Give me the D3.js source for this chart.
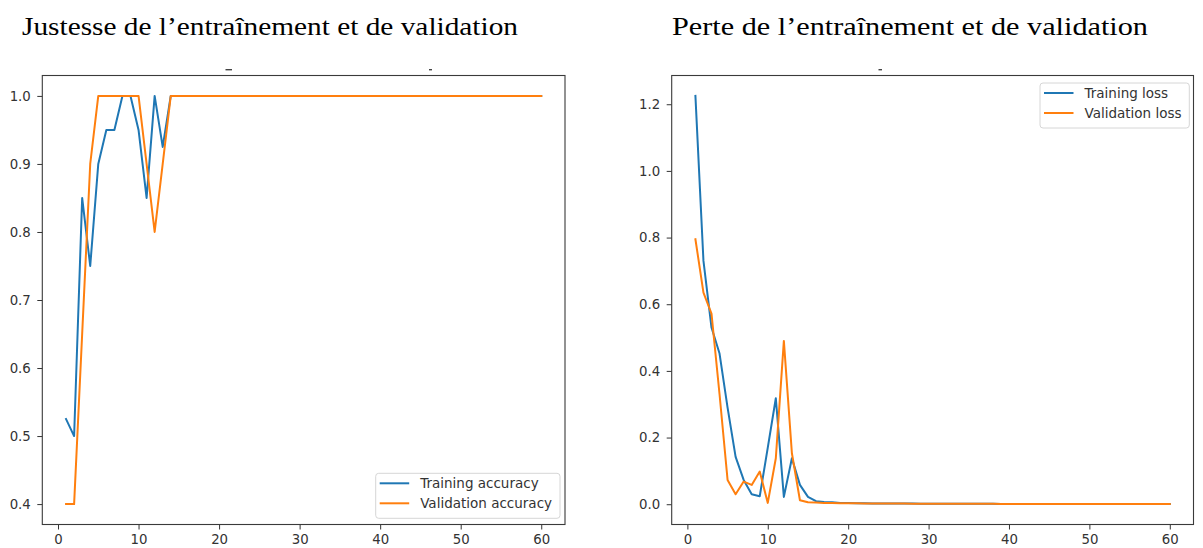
<!DOCTYPE html>
<html>
<head>
<meta charset="utf-8">
<script src="https://cdn.jsdelivr.net/npm/d3@7"></script>
<style>
  html, body { margin: 0; padding: 0; background: #fff; }
  svg { display: block; }
</style>
</head>
<body>
<svg id="chart" width="1203" height="548"></svg>
<script>
// Epochs 1..60
const epochs = d3.range(1, 61);

// Accuracy per epoch
const trainAccuracy = [
  0.525, 0.5, 0.85, 0.75, 0.9, 0.95, 0.95, 1.0, 1.0, 0.95,
  0.85, 1.0, 0.925, 1.0, 1.0, 1.0, 1.0, 1.0, 1.0, 1.0,
  1.0, 1.0, 1.0, 1.0, 1.0, 1.0, 1.0, 1.0, 1.0, 1.0,
  1.0, 1.0, 1.0, 1.0, 1.0, 1.0, 1.0, 1.0, 1.0, 1.0,
  1.0, 1.0, 1.0, 1.0, 1.0, 1.0, 1.0, 1.0, 1.0, 1.0,
  1.0, 1.0, 1.0, 1.0, 1.0, 1.0, 1.0, 1.0, 1.0, 1.0
];
const valAccuracy = [
  0.4, 0.4, 0.65, 0.9, 1.0, 1.0, 1.0, 1.0, 1.0, 1.0,
  0.9, 0.8, 0.9, 1.0, 1.0, 1.0, 1.0, 1.0, 1.0, 1.0,
  1.0, 1.0, 1.0, 1.0, 1.0, 1.0, 1.0, 1.0, 1.0, 1.0,
  1.0, 1.0, 1.0, 1.0, 1.0, 1.0, 1.0, 1.0, 1.0, 1.0,
  1.0, 1.0, 1.0, 1.0, 1.0, 1.0, 1.0, 1.0, 1.0, 1.0,
  1.0, 1.0, 1.0, 1.0, 1.0, 1.0, 1.0, 1.0, 1.0, 1.0
];

// Loss per epoch
const trainLoss = [
  1.225, 0.73, 0.53, 0.452, 0.29, 0.142, 0.073, 0.03, 0.024, 0.17,
  0.318, 0.022, 0.138, 0.058, 0.022, 0.009, 0.007, 0.006, 0.004, 0.0035,
  0.003, 0.0028, 0.0025, 0.0023, 0.0021, 0.002, 0.0019, 0.0018, 0.0017, 0.0016,
  0.0015, 0.0014, 0.0014, 0.0013, 0.0012, 0.0012, 0.0011, 0.0011, 0.001, 0.001,
  0.0009, 0.0009, 0.0009, 0.0008, 0.0008, 0.0008, 0.0007, 0.0007, 0.0007, 0.0007,
  0.0006, 0.0006, 0.0006, 0.0006, 0.0005, 0.0005, 0.0005, 0.0005, 0.0005, 0.0004
];
const valLoss = [
  0.795, 0.635, 0.572, 0.33, 0.073, 0.03, 0.068, 0.058, 0.098, 0.004,
  0.138, 0.49, 0.153, 0.012, 0.006, 0.005, 0.004, 0.0035, 0.003, 0.0028,
  0.0026, 0.0024, 0.0022, 0.0021, 0.002, 0.0019, 0.0018, 0.0017, 0.0016, 0.0015,
  0.0015, 0.0014, 0.0013, 0.0013, 0.0012, 0.0012, 0.0011, 0.0011, 0.001, 0.001,
  0.001, 0.0009, 0.0009, 0.0009, 0.0008, 0.0008, 0.0008, 0.0008, 0.0007, 0.0007,
  0.0007, 0.0007, 0.0006, 0.0006, 0.0006, 0.0006, 0.0006, 0.0005, 0.0005, 0.0005
];

const accuracyTicks = [0.4, 0.5, 0.6, 0.7, 0.8, 0.9, 1.0];
const lossTicks = [0.0, 0.2, 0.4, 0.6, 0.8, 1.0, 1.2];
const epochTicks = [0, 10, 20, 30, 40, 50, 60];

const titles = ["Justesse de l\u2019entra\u00eenement et de validation",
                "Perte de l\u2019entra\u00eenement et de validation"];
const accuracyLabels = ["Training accuracy", "Validation accuracy"];
const lossLabels = ["Training loss", "Validation loss"];

const BLUE = "#1f77b4", ORANGE = "#ff7f0e";
const TICK_FONT = "'DejaVu Sans', sans-serif";

const svg = d3.select("#chart");

// matplotlib-style limits: 5% margin around data range
function padded(lo, hi) {
  const m = (hi - lo) * 0.05;
  return [lo - m, hi + m];
}

function drawPanel(opts) {
  const { left, right, top, bottom, series, yTicks, legend } = opts;
  const g = svg.append("g");

  const x = d3.scaleLinear().domain(padded(1, 60)).range([left, right]);
  const allY = series.flatMap(s => s.values);
  const y = d3.scaleLinear().domain(padded(d3.min(allY), d3.max(allY))).range([bottom, top]);

  const line = d3.line().x((d, i) => x(epochs[i])).y(d => y(d));

  const clipId = "clip" + Math.round(left);
  g.append("clipPath").attr("id", clipId)
    .append("rect").attr("x", left).attr("y", top)
    .attr("width", right - left).attr("height", bottom - top);

  series.forEach(s => {
    g.append("path")
      .datum(s.values)
      .attr("clip-path", `url(#${clipId})`)
      .attr("fill", "none")
      .attr("stroke", s.color)
      .attr("stroke-width", 2)
      .attr("stroke-linejoin", "round")
      .attr("stroke-linecap", "square")
      .attr("d", line);
  });

  // Axes
  const yAxis = d3.axisLeft(y).tickValues(yTicks).tickFormat(d3.format(".1f"))
    .tickSize(5).tickPadding(6.5);
  const xAxis = d3.axisBottom(x).tickValues(epochTicks).tickFormat(d3.format("d"))
    .tickSize(5).tickPadding(5);

  const ya = g.append("g").attr("transform", `translate(${left},0)`).call(yAxis);
  const xa = g.append("g").attr("transform", `translate(0,${bottom})`).call(xAxis);
  [ya, xa].forEach(a => {
    a.select(".domain").remove();
    a.selectAll("line").attr("stroke", "#333").attr("stroke-width", 1);
    a.selectAll("text").attr("fill", "#333")
      .style("font-family", TICK_FONT).style("font-size", "13.3px");
  });

  // Frame
  g.append("rect")
    .attr("x", left).attr("y", top)
    .attr("width", right - left).attr("height", bottom - top)
    .attr("fill", "none").attr("stroke", "#3a3a3a").attr("stroke-width", 1.1);

  // Legend
  const lg = g.append("g");
  lg.append("rect")
    .attr("x", legend.x).attr("y", legend.y)
    .attr("width", legend.w).attr("height", legend.h)
    .attr("rx", 3).attr("fill", "#fff").attr("fill-opacity", 0.8)
    .attr("stroke", "#d6d6d6").attr("stroke-width", 1);
  series.forEach((s, i) => {
    const cy = legend.y + 10 + i * 20;
    lg.append("line")
      .attr("x1", legend.x + 4).attr("x2", legend.x + 33.5)
      .attr("y1", cy).attr("y2", cy)
      .attr("stroke", s.color).attr("stroke-width", 2);
    lg.append("text")
      .attr("x", legend.x + 44.5).attr("y", cy).attr("dy", "0.35em")
      .attr("fill", "#333")
      .style("font-family", TICK_FONT).style("font-size", "13.5px")
      .text(s.label);
  });
  return g;
}

// Left panel: accuracy
drawPanel({
  left: 42.3, right: 565, top: 75.5, bottom: 524.5,
  yTicks: accuracyTicks,
  series: [
    { values: trainAccuracy, color: BLUE, label: accuracyLabels[0] },
    { values: valAccuracy, color: ORANGE, label: accuracyLabels[1] }
  ],
  legend: { x: 375.7, y: 473.3, w: 184.3, h: 45 }
});

// Right panel: loss
drawPanel({
  left: 671.7, right: 1193.5, top: 75.5, bottom: 524.5,
  yTicks: lossTicks,
  series: [
    { values: trainLoss, color: BLUE, label: lossLabels[0] },
    { values: valLoss, color: ORANGE, label: lossLabels[1] }
  ],
  legend: { x: 1040, y: 83, w: 149.3, h: 45 }
});

// Small residual strokes above the frames
[[225.5, 6.5], [429, 3], [878.5, 3.5]].forEach(([x0, w]) => {
  svg.append("rect").attr("x", x0).attr("y", 69).attr("width", w).attr("height", 1.4)
    .attr("fill", "#444");
});

// Panel titles (wide serif setting)
const titleX = [22, 672], titleW = [496, 476];
svg.selectAll("text.title")
  .data(titles)
  .enter().append("text")
  .attr("class", "title")
  .attr("x", (d, i) => titleX[i])
  .attr("y", 35)
  .attr("textLength", (d, i) => titleW[i])
  .attr("lengthAdjust", "spacingAndGlyphs")
  .attr("fill", "#000")
  .style("font-family", "'Liberation Serif', 'Times New Roman', serif")
  .style("font-size", "26px")
  .text(d => d);
</script>
</body>
</html>
